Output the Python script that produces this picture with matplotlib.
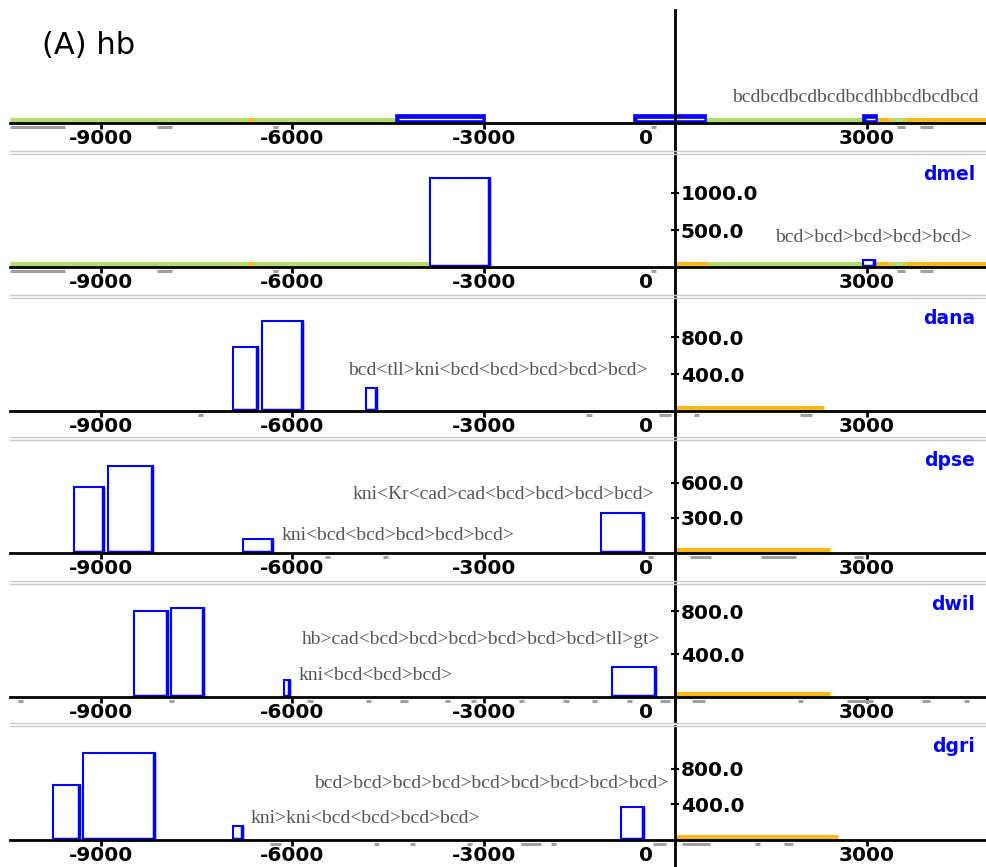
import matplotlib
matplotlib.use('Agg')
import matplotlib.pyplot as plt
from matplotlib.transforms import ScaledTranslation
from matplotlib.lines import Line2D

# ---- data ----
title = '(A) hb'
species = ['', 'dmel', 'dana', 'dpse', 'dwil', 'dgri']

xtick_vals = [-9000, -6000, -3000, 0, 3000]
xtick_labels = ['-9000', '-6000', '-3000', '0', '3000']

yticks = [[], [500, 1000], [400, 800], [300, 600], [400, 800], [400, 800]]

# blue boxes: (start, end, height) per panel
bars_hb = [(-4370, -2980, 100), (-640, 490, 100), (2945, 3165, 100)]
bars_dmel = [(-3840, -2900, 1200), (2945, 3135, 100)]
bars_dana = [(-6925, -6530, 690), (-6470, -5830, 975), (-4840, -4670, 250)]
bars_dpse = [(-9415, -8945, 566), (-8885, -8180, 746), (-6770, -6300, 120), (-1160, -490, 343)]
bars_dwil = [(-8475, -7945, 800), (-7895, -7380, 830), (-6125, -6030, 160), (-990, -300, 283)]
bars_dgri = [(-9745, -9320, 622), (-9275, -8145, 978), (-6925, -6770, 155), (-845, -485, 367)]

# coloured track along the baseline: (start, end, kind)
track_hb = [(-10420, -4370, 'g'), (-6690, -6610, 'o'), (0, 490, 'o'), (490, 2945, 'g'),
            (3165, 3370, 'o'), (3370, 3605, 'g'), (3605, 4870, 'o')]
track_dmel = [(-10420, -3840, 'g'), (-6690, -6610, 'o'), (0, 520, 'o'), (520, 2945, 'g'),
              (3135, 3370, 'o'), (3370, 3605, 'g'), (3605, 4870, 'o')]
track_dana = [(0, 2334, 'o')]
track_dpse = [(0, 2428, 'o')]
track_dwil = [(0, 2428, 'o')]
track_dgri = [(0, 2554, 'o')]

# small grey marks below the baseline: (start, end)
grey_hb = [(-10420, -9555), (-8117, -7880), (-6300, -6220), (-380, -300), (3480, 3600), (3840, 4040)]
grey_dmel = [(-10420, -9555), (-8117, -7880), (-6300, -6220), (-380, -300), (3480, 3600), (3840, 4040)]
grey_dana = [(-7480, -7400), (-1390, -1310), (-260, -60), (290, 370), (1950, 2150)]
grey_dpse = [(-5490, -5410), (-4580, -4500), (-420, -340), (240, 560), (1350, 1900), (2800, 2950)]
grey_dwil = [(-10290, -10210), (-7930, -7850), (-5760, -5680), (-4840, -4760), (-4310, -4190),
             (-3600, -3520), (-3200, -3120), (-2450, -2370), (-1750, -1670), (-1300, -1220),
             (-760, -680), (-240, -80), (260, 470), (1920, 2000), (2700, 3100), (3870, 4000), (4530, 4610)]
grey_dgri = [(-6340, -6180), (-4720, -4640), (-4160, -4080), (-3260, -3180),
             (-2420, -2100), (-1950, -1870), (-350, -150), (100, 550), (1250, 1330), (1700, 1850)]

# site labels: (text, x start, height)
labels_hb = [('bcdbcdbcdbcdbcdhbbcdbcdbcd', 893, 325)]
labels_dmel = [('bcd>bcd>bcd>bcd>bcd>', 1567, 405)]
labels_dana = [('bcd<tll>kni<bcd<bcd>bcd>bcd>bcd>', -5123, 443)]
labels_dpse = [('kni<Kr<cad>cad<bcd>bcd>bcd>bcd>', -5060, 505), ('kni<bcd<bcd>bcd>bcd>bcd>', -6172, 154)]
labels_dwil = [('hb>cad<bcd>bcd>bcd>bcd>bcd>bcd>tll>gt>', -5843, 533), ('kni<bcd<bcd>bcd>', -5906, 205)]
labels_dgri = [('bcd>bcd>bcd>bcd>bcd>bcd>bcd>bcd>bcd>', -5655, 640), ('kni>kni<bcd<bcd>bcd>bcd>', -6658, 247)]

all_bars = [bars_hb, bars_dmel, bars_dana, bars_dpse, bars_dwil, bars_dgri]
all_tracks = [track_hb, track_dmel, track_dana, track_dpse, track_dwil, track_dgri]
all_grey = [grey_hb, grey_dmel, grey_dana, grey_dpse, grey_dwil, grey_dgri]
all_labels = [labels_hb, labels_dmel, labels_dana, labels_dpse, labels_dwil, labels_dgri]

# ---- layout (pixels) ----
W, H = 986, 867
LEFT = 10
tops = [10, 154, 298, 440, 584, 726]
bottoms = [151, 295, 437, 581, 722, 867]
bases = [123, 267, 411, 553, 697, 840]
k = [0.08, 0.074, 0.0925, 0.1167, 0.107, 0.089]   # pixels per unit
separators = [152, 296, 438, 582, 724]
XMIN, XMAX = -10420, 4870

BLUE = '#0000ff'
GREEN = '#b4dc64'
ORANGE = '#ffb81c'
GREY = '#a0a0a0'
track_col = {'g': GREEN, 'o': ORANGE}

fig = plt.figure(figsize=(W / 100, H / 100), dpi=100)

for i in range(6):
    top, bot, base, kk = tops[i], bottoms[i], bases[i], k[i]
    ax = fig.add_axes([LEFT / W, 1 - bot / H, (W - LEFT) / W, (bot - top) / H])
    ax.patch.set_alpha(0)
    ax.set_xlim(XMIN, XMAX)
    ax.set_ylim(-(bot - base) / kk, (base - top) / kk)

    ax.spines['top'].set_visible(False)
    ax.spines['left'].set_visible(False)
    ax.spines['bottom'].set_position(('data', 0))
    ax.spines['right'].set_position(('data', 0))
    ax.spines['bottom'].set_linewidth(2)
    ax.spines['right'].set_linewidth(2)
    ax.spines['bottom'].set_zorder(5)
    ax.spines['right'].set_zorder(5)
    ax.yaxis.tick_right()

    ax.set_yticks(yticks[i])
    ax.set_yticklabels(['%.1f' % v for v in yticks[i]], fontweight='bold')
    ax.tick_params(axis='y', direction='inout', length=6, width=1.5, pad=1, labelsize=14.5)

    ax.set_xticks(xtick_vals)
    ax.set_xticklabels(xtick_labels, fontweight='bold')
    ax.tick_params(axis='x', direction='out', length=4, width=2, pad=0, labelsize=14.5)
    zero_lab = ax.get_xticklabels()[3]
    zero_lab.set_transform(zero_lab.get_transform() + ScaledTranslation(-0.29, 0, fig.dpi_scale_trans))

    # track along baseline
    for x0, x1, c in all_tracks[i]:
        ax.hlines(2.8 / kk, x0, x1, color=track_col[c], lw=3.6, zorder=2)

    # grey marks below baseline
    for x0, x1 in all_grey[i]:
        ax.hlines(-3.5 / kk, x0, x1, color=GREY, lw=2.2, zorder=2)

    # boxes
    for x0, x1, h in all_bars[i]:
        if i == 0:
            ax.bar(x0, h, width=x1 - x0, align='edge', color=BLUE, edgecolor=BLUE, lw=1.2, zorder=3)
            ax.hlines(h * 0.5, x0 + 40, x1 - 40, color='white', lw=1.0, zorder=4)
        else:
            ax.bar(x0, h, width=x1 - x0, align='edge', fill=False, edgecolor=BLUE, lw=1.5, zorder=3)
            ax.vlines(x1 - 20, 0, h, color=BLUE, lw=2.5, zorder=3)
            ax.hlines(1.5 / kk, x0, x1, color=BLUE, lw=2.5, zorder=3)

    # site labels
    for s, x, y in all_labels[i]:
        ax.text(x, y, s, ha='left', va='center', fontsize=14, family='Liberation Serif',
                color='#555555', zorder=4)

    if species[i]:
        ax.text((975 - LEFT) / (W - LEFT), 1 - 20 / (bot - top), species[i], transform=ax.transAxes,
                ha='right', va='center', fontsize=13.5, fontweight='bold', color=BLUE)

# separators between panels
for y in separators:
    for dy in (-1.5, 1.5):
        fig.add_artist(Line2D([LEFT / W, 1], [1 - (y + dy) / H] * 2, color='#c8c8c8', lw=1))

fig.text(42 / W, 1 - 45 / H, title, fontsize=22, va='center', ha='left')

fig.savefig('out.png', dpi=100)
